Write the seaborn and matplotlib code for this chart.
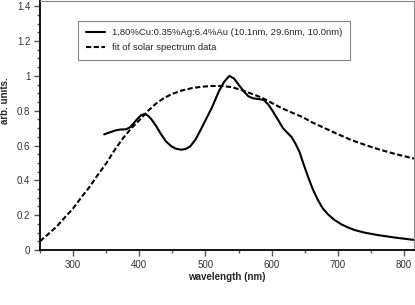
import numpy as np
import pandas as pd
import seaborn as sns
import matplotlib.pyplot as plt
from matplotlib.ticker import MultipleLocator

# measured absorption of the nanoparticle film
wl_film = [347, 355, 365, 372, 380, 386, 392, 398, 403, 408, 413, 418, 425, 432, 440, 448, 455,
           463, 470, 477, 485, 492, 500, 510, 520, 528, 536, 543, 550, 558, 565, 572, 580, 588,
           595, 602, 610, 617, 624, 630, 636, 642, 648, 655, 662, 670, 677, 685, 695, 705, 715,
           725, 740, 760, 785, 815]
abs_film = [0.664, 0.675, 0.688, 0.692, 0.693, 0.705, 0.73, 0.757, 0.775, 0.781, 0.772, 0.752,
            0.715, 0.67, 0.625, 0.597, 0.582, 0.576, 0.58, 0.595, 0.635, 0.685, 0.745, 0.82, 0.91,
            0.965, 1.0, 0.985, 0.95, 0.91, 0.882, 0.871, 0.867, 0.862, 0.835, 0.795, 0.745, 0.70,
            0.672, 0.649, 0.61, 0.563, 0.495, 0.42, 0.35, 0.286, 0.24, 0.205, 0.172, 0.148, 0.13,
            0.115, 0.1, 0.086, 0.072, 0.058]

# fit of solar spectrum
wl_fit = [250, 262, 275, 287, 300, 312, 325, 337, 350, 362, 375, 387, 400, 412, 425, 437, 450,
          465, 480, 495, 510, 525, 540, 555, 570, 585, 600, 615, 630, 647, 660, 680, 700, 720,
          740, 760, 785, 815]
solar_fit = [0.05, 0.09, 0.134, 0.185, 0.239, 0.3, 0.363, 0.43, 0.497, 0.57, 0.64, 0.695, 0.745,
             0.795, 0.84, 0.872, 0.897, 0.917, 0.93, 0.938, 0.942, 0.942, 0.935, 0.918, 0.897,
             0.875, 0.845, 0.815, 0.79, 0.763, 0.735, 0.7, 0.665, 0.632, 0.605, 0.58, 0.553,
             0.525]

label_film = "1.80%Cu:0.35%Ag:6.4%Au (10.1nm, 29.6nm, 10.0nm)"
label_fit = "fit of solar spectrum data"

df_film = pd.DataFrame({"wavelength": wl_film, "value": abs_film})
df_fit = pd.DataFrame({"wavelength": wl_fit, "value": solar_fit})

sns.set_style("ticks")
plt.rcParams['font.family'] = ['Liberation Sans', 'DejaVu Sans']

fig = plt.figure(figsize=(4.15, 3.05), dpi=100)
ax = fig.add_axes([40 / 415, 55 / 305, 374 / 415, 249 / 305])

sns.lineplot(data=df_film, x="wavelength", y="value", color="black", linewidth=1.5,
             label=label_film, ax=ax)
sns.lineplot(data=df_fit, x="wavelength", y="value", color="black", linewidth=1.5,
             linestyle=(0, (2.5, 1.2)), label=label_fit, ax=ax)

ax.set_xlim(250, 815)
ax.set_ylim(0, 1.43)
ax.xaxis.set_major_locator(MultipleLocator(100))
ax.xaxis.set_minor_locator(MultipleLocator(50))
ax.yaxis.set_major_locator(MultipleLocator(0.2))
ax.yaxis.set_minor_locator(MultipleLocator(0.05))
ax.yaxis.set_major_formatter(plt.FuncFormatter(lambda v, p: f"{v:g}"))

ax.tick_params(which="major", direction="out", length=4, width=1, labelsize=7, pad=3,
               color="#555555", labelcolor="#333333")
ax.tick_params(which="minor", direction="out", length=2.5, width=1, color="#555555")

for side in ["left", "bottom"]:
    ax.spines[side].set_linewidth(1.3)
    ax.spines[side].set_color("black")
for side in ["top", "right"]:
    ax.spines[side].set_linewidth(0.8)
    ax.spines[side].set_color("#888888")

ax.set_xlabel("wavelength (nm)", fontsize=7, fontweight="bold", labelpad=2)
ax.set_ylabel("arb. units.", fontsize=7, fontweight="bold")
ax.yaxis.set_label_coords(-0.08, 0.6)

leg = ax.legend(loc="upper left", bbox_to_anchor=(0.102, 0.92), borderaxespad=0, fontsize=6.8,
                frameon=True, fancybox=False, handlelength=2.0, handletextpad=0.8,
                borderpad=0.8, labelspacing=0.6)
leg.get_frame().set_edgecolor("#666666")
leg.get_frame().set_linewidth(0.8)

fig.savefig("out.png", dpi=100)
